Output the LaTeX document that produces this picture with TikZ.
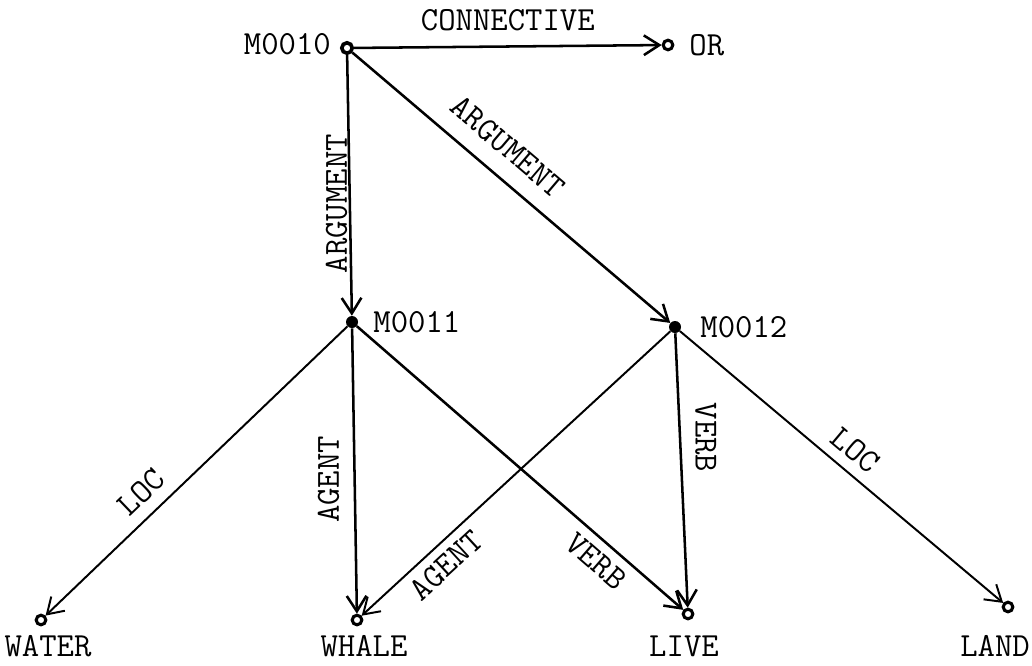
\documentclass[tikz,border=0pt]{standalone}
\usepackage{fontspec}
\usepackage{tikz}
\usetikzlibrary{arrows.meta}
\usetikzlibrary{positioning}
\newcommand{\netfont}{\ttfamily\fontsize{24}{28}\selectfont}
\tikzstyle{rel_node}=[circle, fill, inner sep=0pt, minimum size=0.3cm]
\tikzstyle{base_node}=[circle, draw, line width=2.2pt, inner sep=0pt, minimum size=0.24cm]
\tikzstyle{top_node}=[base_node, minimum size=0.26cm, line width=2.6pt]
\tikzstyle{node_text}=[font=\netfont, inner sep=2pt]
\tikzstyle{arc_text}=[font=\netfont]
\tikzstyle{arc}=[line width=1.8pt, -{Straight Barb[length=11pt,width=14pt]}]
\tikzstyle{thin_arc}=[arc, line width=1.4pt]

\begin{document}
\begin{tikzpicture}[x=0.025cm, y=-0.025cm]
\useasboundingbox (0,0) rectangle (1032,665);
% propositions
\node[top_node] (m10) at (347,48){};
\node[rel_node] (m11) at (352,322){};
\node[rel_node] (m12) at (675,327){};
% base nodes
\node[base_node] (or) at (668,45){};
\node[base_node] (water) at (41,620){};
\node[base_node] (whale) at (357,620){};
\node[base_node] (live) at (688,614){};
\node[base_node] (land) at (1008,607){};
% node names
\node[node_text, left=0.15cm of m10, yshift=3pt] (m10_name) {M0010};
\node[node_text, right=0.3cm of m11] (m11_name) {M0011};
\node[node_text, right=0.4cm of m12] (m12_name) {M0012};
\node[node_text, right=0.3cm of or] (or_name) {OR};
\node[node_text] (water_name) at (48,646) {WATER};
\node[node_text] (whale_name) at (364,646) {WHALE};
\node[node_text] (live_name) at (684,646) {LIVE};
\node[node_text] (land_name) at (995,646) {LAND};
% arcs
\draw[arc] (m10) -- node[arc_text, pos=.5, above, inner sep=10pt] {CONNECTIVE} (or);
\draw[arc] (m10) -- node[arc_text, pos=.57, rotate=90, anchor=south, inner sep=1pt] {ARGUMENT} (m11);
\draw[arc] (m10) -- node[arc_text, pos=.43, sloped, above, inner sep=12pt] {ARGUMENT} (m12);
\draw[thin_arc] (m11) -- node[arc_text, pos=.63, sloped, above, inner sep=8pt] {LOC} (water);
\draw[arc] (m11) -- node[arc_text, pos=.53, rotate=90, anchor=south, inner sep=10pt] {AGENT} (whale);
\draw[arc] (m11) -- node[arc_text, pos=.775, sloped, below, inner sep=6pt] {VERB} (live);
\draw[thin_arc] (m12) -- node[arc_text, pos=.77, sloped, below, inner sep=6pt] {AGENT} (whale);
\draw[arc] (m12) -- node[arc_text, pos=.38, rotate=-90, anchor=south, inner sep=10pt] {VERB} (live);
\draw[thin_arc] (m12) -- node[arc_text, pos=.5, sloped, above, inner sep=7pt] {LOC} (land);
\end{tikzpicture}
\end{document}
